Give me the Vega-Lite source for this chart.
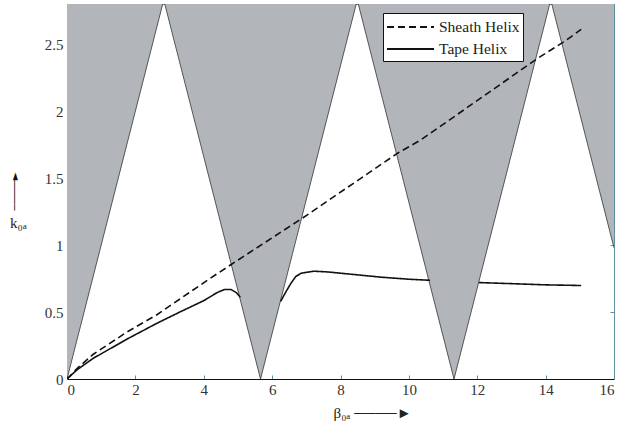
{
  "$schema": "https://vega.github.io/schema/vega-lite/v6.json",
  "width": 547,
  "height": 375,
  "autosize": {"type": "none"},
  "padding": {"left": 67, "top": 4, "right": 7, "bottom": 45},
  "background": "white",
  "title": {"text": "─────►", "orient": "left", "anchor": "middle", "frame": "group", "offset": -12, "font": "DejaVu Sans", "fontSize": 10, "fontWeight": "normal", "color": "#111", "dy": -2},
  "config": {
    "view": {"stroke": "#5f8fa0", "strokeWidth": 1},
    "font": "Liberation Serif, Times New Roman, DejaVu Sans, serif",
    "axis": {"labelFont": "Liberation Serif, Times New Roman, serif", "titleFont": "Liberation Serif, Times New Roman, DejaVu Sans, serif", "labelColor": "#333", "titleColor": "#333", "grid": false},
    "legend": {"labelFont": "Liberation Serif, Times New Roman, serif"}
  },
  "datasets": {
    "zone": [
      {"b": 0, "k": 0},
      {"b": 2.83, "k": 2.83},
      {"b": 5.66, "k": 0},
      {"b": 8.49, "k": 2.83},
      {"b": 11.32, "k": 0},
      {"b": 14.15, "k": 2.83},
      {"b": 16, "k": 0.98}
    ],
    "curves": [
      {"series": "Sheath Helix", "seg": "s1", "b": 0, "k": 0},
      {"series": "Sheath Helix", "seg": "s1", "b": 0.3, "k": 0.08},
      {"series": "Sheath Helix", "seg": "s1", "b": 0.77, "k": 0.185},
      {"series": "Sheath Helix", "seg": "s1", "b": 1.75, "k": 0.35},
      {"series": "Sheath Helix", "seg": "s1", "b": 2.63, "k": 0.48},
      {"series": "Sheath Helix", "seg": "s1", "b": 4.19, "k": 0.752},
      {"series": "Sheath Helix", "seg": "s1", "b": 4.78, "k": 0.851},
      {"series": "Sheath Helix", "seg": "s1", "b": 6.88, "k": 1.2},
      {"series": "Sheath Helix", "seg": "s1", "b": 9.67, "k": 1.686},
      {"series": "Sheath Helix", "seg": "s1", "b": 10.35, "k": 1.785},
      {"series": "Sheath Helix", "seg": "s1", "b": 13.77, "k": 2.395},
      {"series": "Sheath Helix", "seg": "s1", "b": 14.55, "k": 2.52},
      {"series": "Sheath Helix", "seg": "s1", "b": 15.04, "k": 2.61},
      {"series": "Tape Helix", "seg": "t1", "b": 0, "k": 0},
      {"series": "Tape Helix", "seg": "t1", "b": 0.3, "k": 0.07},
      {"series": "Tape Helix", "seg": "t1", "b": 0.77, "k": 0.155},
      {"series": "Tape Helix", "seg": "t1", "b": 1.8, "k": 0.304},
      {"series": "Tape Helix", "seg": "t1", "b": 2.63, "k": 0.416},
      {"series": "Tape Helix", "seg": "t1", "b": 3.3, "k": 0.5},
      {"series": "Tape Helix", "seg": "t1", "b": 4.0, "k": 0.585},
      {"series": "Tape Helix", "seg": "t1", "b": 4.39, "k": 0.645},
      {"series": "Tape Helix", "seg": "t1", "b": 4.6, "k": 0.668},
      {"series": "Tape Helix", "seg": "t1", "b": 4.8, "k": 0.668},
      {"series": "Tape Helix", "seg": "t1", "b": 4.95, "k": 0.645},
      {"series": "Tape Helix", "seg": "t1", "b": 5.07, "k": 0.61},
      {"series": "Tape Helix", "seg": "t2", "b": 6.25, "k": 0.58},
      {"series": "Tape Helix", "seg": "t2", "b": 6.4, "k": 0.65},
      {"series": "Tape Helix", "seg": "t2", "b": 6.54, "k": 0.71},
      {"series": "Tape Helix", "seg": "t2", "b": 6.69, "k": 0.765},
      {"series": "Tape Helix", "seg": "t2", "b": 6.85, "k": 0.79},
      {"series": "Tape Helix", "seg": "t2", "b": 7.22, "k": 0.805},
      {"series": "Tape Helix", "seg": "t2", "b": 7.6, "k": 0.8},
      {"series": "Tape Helix", "seg": "t2", "b": 8.4, "k": 0.78},
      {"series": "Tape Helix", "seg": "t2", "b": 9.2, "k": 0.76},
      {"series": "Tape Helix", "seg": "t2", "b": 10.0, "k": 0.745},
      {"series": "Tape Helix", "seg": "t2", "b": 10.62, "k": 0.737},
      {"series": "Tape Helix", "seg": "t3", "b": 12.05, "k": 0.72},
      {"series": "Tape Helix", "seg": "t3", "b": 13.0, "k": 0.712},
      {"series": "Tape Helix", "seg": "t3", "b": 14.0, "k": 0.703},
      {"series": "Tape Helix", "seg": "t3", "b": 15.04, "k": 0.698}
    ]
  },
  "resolve": {"axis": {"y": "independent"}},
  "layer": [
    {
      "data": {"name": "zone"},
      "mark": {"type": "area", "color": "#b2b5ba", "opacity": 1, "clip": true},
      "encoding": {
        "x": {"field": "b", "type": "quantitative", "scale": {"domain": [0, 16], "nice": false},
          "axis": {"values": [0, 2, 4, 6, 8, 10, 12, 14, 16], "tickSize": -4, "tickColor": "#5f8fa0", "domainColor": "#111", "labelFont": "Liberation Serif, Times New Roman, serif", "labelFontSize": 15, "labelPadding": 7,
            "title": "β₀ₐ ────►", "titleFont": "Liberation Serif, DejaVu Sans, serif", "titleFontSize": 15, "titleAlign": "left", "titleX": 266, "titleY": 33, "titleBaseline": "middle", "titleFontWeight": "normal", "titleColor": "#222"}},
        "y": {"field": "k", "type": "quantitative", "scale": {"domain": [0, 2.8], "nice": false, "zero": true},
          "axis": {"orient": "left", "values": [0, 0.5, 1, 1.5, 2, 2.5], "format": "~g", "tickSize": 0, "domainColor": "#5f8fa0", "labelFont": "Liberation Serif, Times New Roman, serif", "labelFontSize": 15, "labelPadding": 4,
            "title": "k₀ₐ", "titleFont": "Liberation Serif, DejaVu Sans, serif", "titleAngle": 0, "titleAlign": "center", "titleBaseline": "middle", "titleX": -49, "titleY": 218, "titleFontSize": 15, "titleFontWeight": "normal", "titleColor": "#222"}},
        "y2": {"datum": 2.8}
      }
    },
    {
      "data": {"name": "zone"},
      "mark": {"type": "line", "color": "#333", "strokeWidth": 0.8, "clip": true},
      "encoding": {
        "x": {"field": "b", "type": "quantitative"},
        "y": {"field": "k", "type": "quantitative", "axis": {"orient": "right", "labels": false, "title": null, "values": [0.5, 1, 1.5, 2, 2.5], "tickSize": -4, "tickColor": "#5f8fa0", "domainColor": "#5f8fa0"}}
      }
    },
    {
      "data": {"name": "curves"},
      "mark": {"type": "line", "color": "#111", "strokeWidth": 1.6, "clip": true},
      "encoding": {
        "x": {"field": "b", "type": "quantitative"},
        "y": {"field": "k", "type": "quantitative", "axis": null},
        "detail": {"field": "seg"},
        "strokeDash": {"field": "series", "type": "nominal",
          "scale": {"domain": ["Sheath Helix", "Tape Helix"], "range": [[7, 4], [1, 0]]},
          "legend": {"orient": "none", "legendX": 316, "legendY": 9, "title": null, "symbolType": "M -1 0 H 3.7", "symbolSize": 400, "symbolStrokeWidth": 1.8, "symbolStrokeColor": "#111",
            "labelFontSize": 15.5, "labelColor": "#222", "labelOffset": 31, "rowPadding": 2,
            "strokeColor": "#111", "fillColor": "white", "padding": 3, "cornerRadius": 0}}
      }
    }
  ]
}
